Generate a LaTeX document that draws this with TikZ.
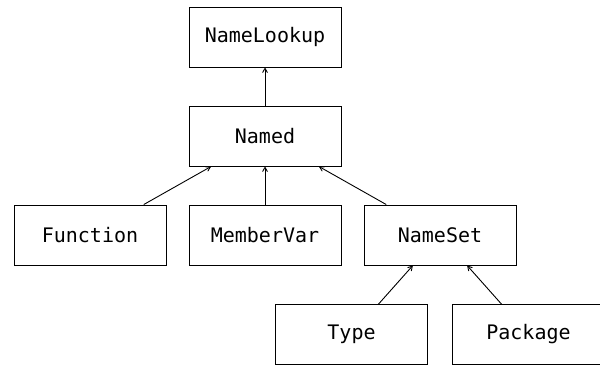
\documentclass[tikz,border=0pt]{standalone}
\usepackage{fontspec}
\setmonofont{DejaVu Sans Mono}
\usepackage{tikz}
\usetikzlibrary{arrows}
\tikzset{
    tnode/.style = {align=center, inner sep=0pt, text centered},
    cls/.style = {tnode, rectangle, draw=black, line width=0.9pt, minimum width=152pt, minimum height=60pt,
                  font=\ttfamily\fontsize{20}{24}\selectfont}
}

\begin{document}
\begin{tikzpicture}
                    [-,>=angle 60, line width=0.9pt,
                    level 1/.style={level distance = 99pt},
                    level 2/.style={sibling distance = 175pt, level distance = 99pt},
                    level 3/.style={sibling distance = 177pt, level distance = 99.5pt},
                    edge from parent/.style={draw, <-},
                    edge from parent path={(\tikzparentnode) -- (\tikzchildnode)},
                    grow = down, every node/.style = {cls}]

                    \useasboundingbox (0pt,0pt) rectangle (600pt,-366pt);

                    \node (lookup) at (265pt,-37pt) {NameLookup}
                    child {
                        node (named) {Named}
                        child { node (function) {Function} }
                        child { node (membervar) {MemberVar} }
                        child {
                            node (nameset) {NameSet}
                            child { node (type) {Type} }
                            child { node (package) {Package} }
                        }
                    }
                    ;
                \end{tikzpicture}
\end{document}
